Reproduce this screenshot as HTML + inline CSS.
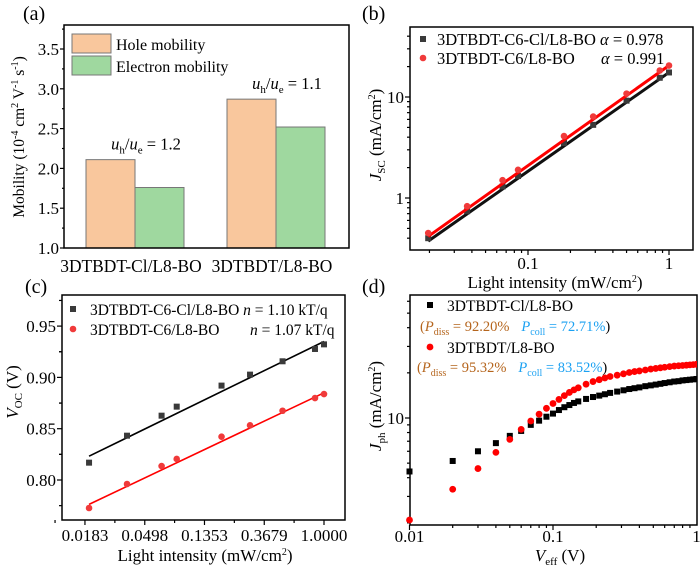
<!DOCTYPE html>
<html><head><meta charset="utf-8"><style>
html,body{margin:0;padding:0;background:#fff;}
svg{display:block;font-family:"Liberation Serif",serif;}
</style></head><body>
<svg id="fig" width="700" height="567" viewBox="0 0 700 567" xmlns="http://www.w3.org/2000/svg"></svg>
<script>
// ---------- Panel (a) data ----------
const aCategories = ["3DTBDT-Cl/L8-BO", "3DTBDT/L8-BO"];
const aHole = [2.11, 2.87];
const aElectron = [1.76, 2.52];
const aRatioLabels = ["1.2", "1.1"];
const aTicks = [1.0, 1.5, 2.0, 2.5, 3.0, 3.5];
// ---------- Panel (b) data ----------
const bIntensity = [0.0196, 0.037, 0.066, 0.085, 0.18, 0.29, 0.5, 0.86, 1.0];
const bJscBlack = [0.40, 0.74, 1.30, 1.65, 3.5, 5.3, 9.2, 15.5, 17.5];
const bJscRed = [0.45, 0.83, 1.50, 1.90, 4.1, 6.4, 10.8, 18.3, 20.5];
const bAlpha = [0.978, 0.991];
const bFitA = [17.5, 20.5];
const bXTicks = ["0.1", "1"];
const bYTicks = ["1", "10"];
// ---------- Panel (c) data ----------
const cIntensity = [0.0196, 0.037, 0.066, 0.085, 0.18, 0.29, 0.5, 0.86, 1.0];
const cVocBlack = [0.8169, 0.8432, 0.8627, 0.8715, 0.8920, 0.9027, 0.9157, 0.9277, 0.9322];
const cVocRed = [0.7727, 0.7961, 0.8136, 0.8205, 0.8422, 0.8533, 0.8675, 0.8799, 0.8838];
const cN = [1.10, 1.07];
const cFitAt1 = [0.935, 0.885];
const cXTicks = ["0.0183", "0.0498", "0.1353", "0.3679", "1.0000"];
const cYTicks = [0.80, 0.85, 0.90, 0.95];
// ---------- Panel (d) data ----------
const dVeff = [0.01,0.02,0.03,0.04,0.05,0.06,0.07,0.08,0.09,0.10,0.11,0.12,0.13,0.14,0.15,0.17,0.19,0.21,0.23,0.25,0.28,0.31,0.34,0.37,0.40,0.44,0.48,0.52,0.56,0.60,0.65,0.70,0.75,0.80,0.85,0.90,0.95,1.0];
const dJphBlack = [4.4,5.17,6.0,6.8,7.6,8.2,9.0,9.6,10.2,10.7,11.3,11.8,12.2,12.6,12.9,13.4,13.8,14.1,14.4,14.7,15.0,15.3,15.6,15.8,16.0,16.3,16.5,16.7,16.9,17.1,17.3,17.5,17.6,17.8,17.9,18.0,18.1,18.2];
const dJphRed = [2.09,3.35,4.6,5.9,7.2,8.4,9.55,10.6,11.6,12.5,13.3,14.1,14.8,15.4,15.9,16.8,17.5,18.0,18.5,18.9,19.3,19.7,20.1,20.4,20.6,20.9,21.2,21.4,21.6,21.8,22.0,22.2,22.3,22.4,22.5,22.6,22.7,22.8];
const dXTicks = ["0.01", "0.1", "1"];

const NS = "http://www.w3.org/2000/svg";
const svg = document.getElementById("fig");
function el(tag, attrs, parent) {
  const e = document.createElementNS(NS, tag);
  for (const k in attrs) e.setAttribute(k, attrs[k]);
  (parent || svg).appendChild(e);
  return e;
}
function txt(x, y, s, size, anchor, parent) {
  const t = el("text", {x: x, y: y, "font-size": size, "text-anchor": anchor || "start", fill: "#000"}, parent);
  t.innerHTML = s;
  return t;
}
function frame(g, l, t, r, b) {
  el("rect", {x: l, y: t, width: r - l, height: b - t, fill: "none", stroke: "#000", "stroke-width": 1.5}, g);
}
function tickY(g, x, y, len) { el("line", {x1: x - len, y1: y, x2: x, y2: y, stroke: "#000", "stroke-width": 1.2}, g); }
function tickX(g, x, y, len) { el("line", {x1: x, y1: y, x2: x, y2: y + len, stroke: "#000", "stroke-width": 1.2}, g); }

// ================= Panel (a) =================
(function(){
  const g = el("g", {});
  
  
  const L = 64, R = 349, T = 25, B = 248;
  const y = v => B - (v - 1.0) * 79.6;
  const lab = txt(23, 20, "(a)", 20, "start", g);
  
  
  const hx = [86, 227];
  for (let i = 0; i < aCategories.length; i++) {
    const hb = el("rect", {x: hx[i], y: y(aHole[i]), width: 49, height: B - y(aHole[i]), fill: "#f9c79d", stroke: "#777", "stroke-width": 1}, g);
    
    
    const eb = el("rect", {x: hx[i] + 49, y: y(aElectron[i]), width: 49, height: B - y(aElectron[i]), fill: "#9fd89f", stroke: "#777", "stroke-width": 1}, g);
    
    
    const r = txt(hx[i] + 60, y(aHole[i]) - 10, '<tspan font-style="italic">u</tspan><tspan font-size="11" dy="4">h</tspan><tspan dy="-4">/</tspan><tspan font-style="italic">u</tspan><tspan font-size="11" dy="4">e</tspan><tspan dy="-4"> = ' + aRatioLabels[i] + '</tspan>', 16.5, "middle", g);
    
    
    const c = txt(hx[i] + 49 - 4, 272, aCategories[i], 17.4, "middle", g);
    
    
  }
  frame(g, L, T, R, B);
  for (const v of aTicks) {
    tickY(g, L, y(v), 4);
    const t = txt(L - 5, y(v) + 6, v.toFixed(1), 17, "end", g);
    
    
    if (v < 3.5) tickY(g, L, y(v + 0.25), 2);
  }
  tickY(g, L, y(3.75), 2);
  const yl = txt(0, 0, 'Mobility (10<tspan font-size="10" dy="-6">-4</tspan><tspan dy="6"> cm</tspan><tspan font-size="10" dy="-6">2</tspan><tspan dy="6"> V</tspan><tspan font-size="10" dy="-6">-1</tspan><tspan dy="6"> s</tspan><tspan font-size="10" dy="-6">-1</tspan><tspan dy="6">)</tspan>', 15.5, "middle", g);
  yl.setAttribute("transform", "translate(24,137) rotate(-90)");
  
  
  const lg = el("g", {}, g);
  
  
  el("rect", {x: 72, y: 34, width: 39, height: 19, fill: "#f9c79d", stroke: "#777"}, lg);
  el("rect", {x: 72, y: 56, width: 39, height: 19, fill: "#9fd89f", stroke: "#777"}, lg);
  const l1 = txt(116, 50, "Hole mobility", 16, "start", lg);
  
  
  const l2 = txt(116, 72, "Electron mobility", 16, "start", lg);
  
  
})();

// ================= Panel (b) =================
(function(){
  const g = el("g", {});
  
  
  const L = 410, R = 693, T = 27, B = 250;
  const x = v => 528 + (Math.log10(v) + 1) * 141;
  const y = v => 198 - Math.log10(v) * 101;
  const lab = txt(362, 20, "(b)", 20, "start", g);
  
  
  frame(g, L, T, R, B);
  for (let d = -2; d <= 0; d++) for (let m = 1; m <= 9; m++) {
    const v = m * Math.pow(10, d), px = x(v);
    if (px > L + 1 && px < R - 1) tickX(g, px, B, m === 1 ? 5 : 3);
  }
  for (const s of bXTicks) {
    const t = txt(x(parseFloat(s)), 269, s, 17, "middle", g);
    
    
  }
  for (let d = -1; d <= 1; d++) for (let m = 1; m <= 9; m++) {
    const v = m * Math.pow(10, d), py = y(v);
    if (py > T + 1 && py < B - 1) tickY(g, L, py, m === 1 ? 5 : 3);
  }
  for (const s of bYTicks) {
    const t = txt(L - 6, y(parseFloat(s)) + 6, s, 17, "end", g);
    
    
  }
  const series = [[bJscBlack, "#111", "#3a3a3a", "black"], [bJscRed, "#ff0000", "#f03a3a", "red"]];
  series.forEach((s, i) => {
    const x0 = bIntensity[0], x1 = bIntensity[bIntensity.length - 1];
    const fl = el("line", {x1: x(x0), y1: y(bFitA[i] * Math.pow(x0, bAlpha[i])), x2: x(x1), y2: y(bFitA[i] * Math.pow(x1, bAlpha[i])), stroke: s[1], "stroke-width": 3}, g);
    
    
    bIntensity.forEach((v, j) => {
      let m;
      if (i === 0) m = el("rect", {x: x(v) - 3, y: y(s[0][j]) - 3, width: 6, height: 6, fill: s[2]}, g);
      else m = el("circle", {cx: x(v), cy: y(s[0][j]), r: 3.3, fill: s[2]}, g);
      
      
    });
  });
  const lg = el("g", {}, g);
  
  
  el("rect", {x: 420, y: 36, width: 6, height: 6, fill: "#3a3a3a"}, lg);
  el("circle", {cx: 423, cy: 58, r: 3.3, fill: "#f03a3a"}, lg);
  const e1 = txt(437, 45, '3DTBDT-C6-Cl/L8-BO <tspan font-style="italic">α</tspan> = ' + bAlpha[0], 16.5, "start", lg);
  
  
  const e2 = txt(437, 64, '3DTBDT-C6/L8-BO', 16.5, "start", lg);
  
  
  const e3 = txt(601, 64, '<tspan font-style="italic">α</tspan> = ' + bAlpha[1], 16.5, "start", lg);
  
  
  const xl = txt(555, 288, 'Light intensity (mW/cm<tspan font-size="10" dy="-6">2</tspan><tspan dy="6">)</tspan>', 17, "middle", g);
  
  
  const yl = txt(0, 0, '<tspan font-style="italic">J</tspan><tspan font-size="11" dy="4">SC</tspan><tspan dy="-4"> (mA/cm</tspan><tspan font-size="10" dy="-6">2</tspan><tspan dy="6">)</tspan>', 17, "middle", g);
  yl.setAttribute("transform", "translate(381,135) rotate(-90)");
  
  
})();

// ================= Panel (c) =================
(function(){
  const g = el("g", {});
  
  
  const L = 62, R = 345, T = 295, B = 520;
  const x = v => 324 + Math.log(v) * 59.75;
  const y = v => 480 - (v - 0.80) * 1026;
  const lab = txt(25, 293, "(c)", 20, "start", g);
  
  
  frame(g, L, T, R, B);
  for (const s of cXTicks) {
    const px = x(parseFloat(s));
    tickX(g, px, B, 5);
    tickX(g, px - 29.9, B, 3);
    const t = txt(px, 541, s, 17, "middle", g);
    
    
  }
  for (const v of cYTicks) {
    tickY(g, L, y(v), 5);
    tickY(g, L, y(v + 0.025), 3);
    tickY(g, L, y(v - 0.025), 3);
    const t = txt(L - 6, y(v) + 6, v.toFixed(2), 17, "end", g);
    
    
  }
  const series = [[cVocBlack, "#000", "#3a3a3a", "black"], [cVocRed, "#ff0000", "#f03a3a", "red"]];
  series.forEach((s, i) => {
    const kT = 0.02585 * cN[i];
    const x0 = cIntensity[0], x1 = cIntensity[cIntensity.length - 1];
    const fl = el("line", {x1: x(x0), y1: y(cFitAt1[i] + kT * Math.log(x0)), x2: x(x1), y2: y(cFitAt1[i] + kT * Math.log(x1)), stroke: s[1], "stroke-width": 1.6}, g);
    
    
    cIntensity.forEach((v, j) => {
      let m;
      if (i === 0) m = el("rect", {x: x(v) - 3, y: y(s[0][j]) - 3, width: 6, height: 6, fill: s[2]}, g);
      else m = el("circle", {cx: x(v), cy: y(s[0][j]), r: 3.3, fill: s[2]}, g);
      
      
    });
  });
  const lg = el("g", {}, g);
  
  
  el("rect", {x: 70, y: 306, width: 6, height: 6, fill: "#3a3a3a"}, lg);
  el("circle", {cx: 73, cy: 329, r: 3.3, fill: "#f03a3a"}, lg);
  const e1 = txt(90, 315, '3DTBDT-C6-Cl/L8-BO <tspan font-style="italic">n</tspan> = ' + cN[0].toFixed(2) + ' kT/q', 15.5, "start", lg);
  
  
  const e2 = txt(90, 335, '3DTBDT-C6/L8-BO', 15.5, "start", lg);
  
  
  const e3 = txt(250, 335, '<tspan font-style="italic">n</tspan> = ' + cN[1].toFixed(2) + ' kT/q', 15.5, "start", lg);
  
  
  const xl = txt(205, 561, 'Light intensity (mW/cm<tspan font-size="10" dy="-6">2</tspan><tspan dy="6">)</tspan>', 17, "middle", g);
  
  
  const yl = txt(0, 0, '<tspan font-style="italic">V</tspan><tspan font-size="11" dy="4">OC</tspan><tspan dy="-4"> (V)</tspan>', 17, "middle", g);
  yl.setAttribute("transform", "translate(18,392) rotate(-90)");
  
  
})();

// ================= Panel (d) =================
(function(){
  const g = el("g", {});
  
  
  const L = 410, R = 697, T = 295, B = 525;
  const x = v => 553 + (Math.log10(v) + 1) * 143.5;
  const y = v => 418 - (Math.log10(v) - 1) * 150;
  const lab = txt(362, 293, "(d)", 20, "start", g);
  
  
  frame(g, L, T, R, B);
  for (let d = -2; d <= -1; d++) for (let m = 1; m <= 9; m++) tickX(g, x(m * Math.pow(10, d)), B, m === 1 ? 5 : 3);
  for (const s of dXTicks) {
    const t = txt(x(parseFloat(s)), 542, s, 17, "middle", g);
    
    
  }
  for (const v of [2,3,4,5,6,7,8,9,10,20,30,40,50,60]) {
    const py = y(v);
    if (py > T + 1 && py < B - 1) tickY(g, L, py, v === 10 ? 5 : 3);
  }
  const yt = txt(L - 6, y(10) + 6, "10", 17, "end", g);
  
  
  const clip = el("clipPath", {id: "dclip"}, g);
  el("rect", {x: L - 4, y: T, width: R - L + 4, height: B - T + 4}, clip);
  const pts = el("g", {"clip-path": "url(#dclip)"}, g);
  dVeff.forEach((v, j) => {
    const m = el("rect", {x: x(v) - 3, y: y(dJphBlack[j]) - 3, width: 6, height: 6, fill: "#000"}, pts);
    
    
  });
  dVeff.forEach((v, j) => {
    const m = el("circle", {cx: x(v), cy: y(dJphRed[j]), r: 3.4, fill: "#ff0000"}, pts);
    
    
  });
  const lg = el("g", {}, g);
  
  
  el("rect", {x: 427, y: 302, width: 6, height: 6, fill: "#000"}, lg);
  el("circle", {cx: 430, cy: 347, r: 3.4, fill: "#ff0000"}, lg);
  const e1 = txt(447, 311, '3DTBDT-Cl/L8-BO', 15.5, "start", lg);
  
  
  const p1 = txt(420, 331, '<tspan fill="#b5651d">(</tspan><tspan fill="#b5651d" font-style="italic">P</tspan><tspan fill="#b5651d" font-size="10" dy="4">diss</tspan><tspan fill="#b5651d" dy="-4"> = 92.20%</tspan><tspan fill="#1ba1f2" dx="12" font-style="italic">P</tspan><tspan fill="#1ba1f2" font-size="10" dy="4">coll</tspan><tspan fill="#1ba1f2" dy="-4"> = 72.71%</tspan><tspan fill="#000">)</tspan>', 14.5, "start", lg);
  
  
  const e2 = txt(447, 353, '3DTBDT/L8-BO', 15.5, "start", lg);
  
  
  const p2 = txt(417, 372, '<tspan fill="#b5651d">(</tspan><tspan fill="#b5651d" font-style="italic">P</tspan><tspan fill="#b5651d" font-size="10" dy="4">diss</tspan><tspan fill="#b5651d" dy="-4"> = 95.32%</tspan><tspan fill="#1ba1f2" dx="12" font-style="italic">P</tspan><tspan fill="#1ba1f2" font-size="10" dy="4">coll</tspan><tspan fill="#1ba1f2" dy="-4"> = 83.52%</tspan><tspan fill="#000">)</tspan>', 14.5, "start", lg);
  
  
  const xl = txt(560, 561, '<tspan font-style="italic">V</tspan><tspan font-size="11" dy="4">eff</tspan><tspan dy="-4"> (V)</tspan>', 17, "middle", g);
  
  
  const yl = txt(0, 0, '<tspan font-style="italic">J</tspan><tspan font-size="11" dy="4">ph</tspan><tspan dy="-4"> (mA/cm</tspan><tspan font-size="10" dy="-6">2</tspan><tspan dy="6">)</tspan>', 17, "middle", g);
  yl.setAttribute("transform", "translate(381,406) rotate(-90)");
  
  
})();
</script>
</body></html>
